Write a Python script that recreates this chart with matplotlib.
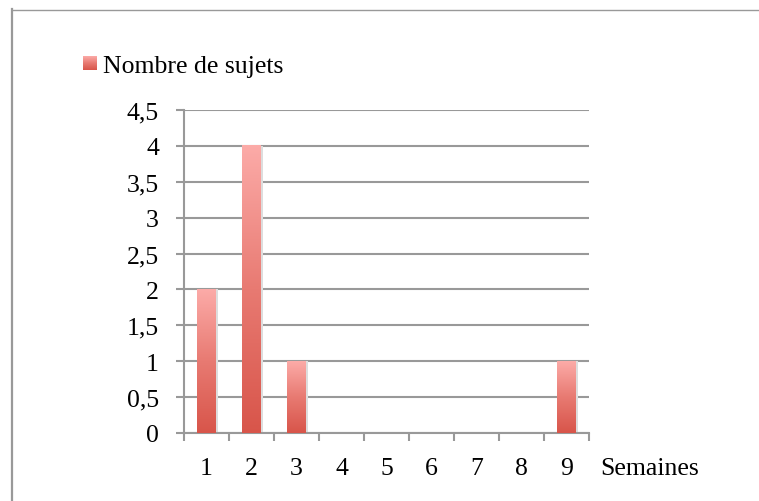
import numpy as np
import matplotlib.pyplot as plt
from matplotlib.colors import LinearSegmentedColormap
from matplotlib.patches import Rectangle
from matplotlib.lines import Line2D

# données
semaines = ['1', '2', '3', '4', '5', '6', '7', '8', '9']
nombre_sujets = [2, 4, 1, 0, 0, 0, 0, 0, 1]
yticks = [0, 0.5, 1, 1.5, 2, 2.5, 3, 3.5, 4, 4.5]
ytick_labels = ['0', '0,5', '1', '1,5', '2', '2,5', '3', '3,5', '4', '4,5']

plt.rcParams['font.family'] = ['Liberation Serif', 'DejaVu Serif']
fs = 18.5

W, H = 759, 502
fig = plt.figure(figsize=(W / 100, H / 100), dpi=100)

# dégradé rouge (bas) -> rose (haut)
cmap = LinearSegmentedColormap.from_list('rouge', ['#d8554a', '#e87a72', '#fcaba8'])
grad = np.linspace(0, 1, 256).reshape(-1, 1)

# cadre (haut et gauche)
fig.add_artist(Line2D([12 / W, 12 / W], [0, 1 - 10 / H], color='#999999', lw=1.6))
fig.add_artist(Line2D([12 / W, 1], [1 - 10.5 / H, 1 - 10.5 / H], color='#999999', lw=1.0))

ax = fig.add_axes([184 / W, (H - 434) / H, (589 - 184) / W, (434 - 111) / H])
x = np.arange(len(semaines))
bars = ax.bar(x, nombre_sujets, width=0.42, color='none', zorder=3)
for b in bars:
    if b.get_height() <= 0:
        continue
    x0, y0 = b.get_xy()
    ax.imshow(grad, cmap=cmap, origin='lower', aspect='auto', zorder=3,
              extent=[x0, x0 + b.get_width(), y0, y0 + b.get_height()])
    # légère ombre
    ax.add_patch(Rectangle((x0 + b.get_width(), 0), 0.04, b.get_height(),
                           color='#dddddd', zorder=2, lw=0))

ax.set_xlim(-0.5, len(semaines) - 0.5)
ax.set_ylim(0, 4.5)
ax.set_yticks(yticks)
ax.set_yticklabels(ytick_labels)
ax.set_xticks(x)
ax.set_xticklabels(semaines)
ax.set_xticks(np.arange(-0.5, len(semaines)), minor=True)
ax.yaxis.grid(True, color='#999999', lw=1.5, zorder=1)
ax.set_axisbelow(True)
for s in ['top', 'right']:
    ax.spines[s].set_visible(False)
ax.spines['left'].set_color('#999999')
ax.spines['left'].set_linewidth(1.5)
ax.spines['bottom'].set_color('#999999')
ax.spines['bottom'].set_linewidth(1.5)
ax.tick_params(axis='y', length=6, width=1.5, color='#999999', pad=12, labelsize=fs)
ax.tick_params(axis='x', which='major', length=0, pad=17, labelsize=fs)
ax.tick_params(axis='x', which='minor', length=6, width=1.5, color='#999999')

fig.text(600 / W, 1 - 469 / H, 'Semaines', fontsize=fs, va='center', ha='left')

# légende
lax = fig.add_axes([83 / W, 1 - 71 / H, 14 / W, 14 / H])
lax.imshow(grad, cmap=cmap, origin='lower', aspect='auto')
lax.axis('off')
fig.text(103 / W, 1 - 67 / H, 'Nombre de sujets', fontsize=fs, va='center', ha='left')

fig.savefig('out.png', dpi=100)
